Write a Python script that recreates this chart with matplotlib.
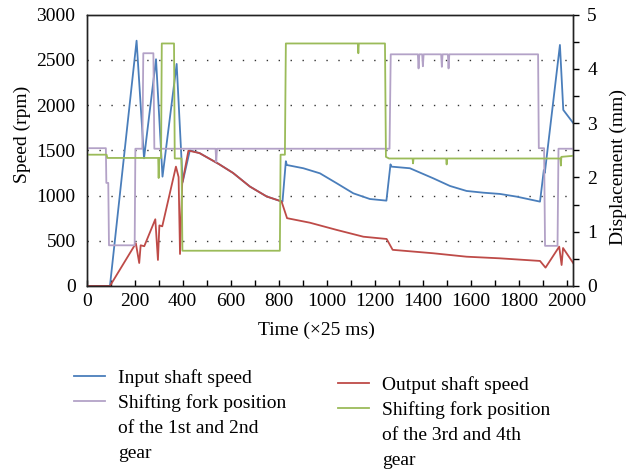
import matplotlib.pyplot as plt
from matplotlib.ticker import MultipleLocator

plt.rcParams['font.family'] = ['Liberation Serif', 'DejaVu Serif']
plt.rcParams['font.size'] = 14

# input shaft speed (rpm) - time in units of 25 ms
input_t = [0, 97, 208, 239, 289, 316, 375, 400, 430, 470, 550, 610, 680, 750, 812,
           816, 830, 834, 903, 972, 1042, 1111, 1180, 1249, 1266, 1270, 1347, 1444,
           1514, 1583, 1652, 1722, 1792, 1889, 1905, 1909, 1972, 1986, 2028]
input_rpm = [0, 0, 2713, 1412, 2508, 1209, 2456, 1150, 1500, 1470, 1350, 1250, 1100, 990, 935,
             933, 1380, 1338, 1302, 1246, 1136, 1025, 962, 944, 1345, 1320, 1302, 1191,
             1106, 1051, 1032, 1018, 988, 933, 1283, 1250, 2666, 1947, 1800]

# output shaft speed (rpm)
output_t = [0, 97, 205, 219, 225, 240, 286, 297, 303, 315, 372, 383, 389, 398, 424,
            470, 550, 610, 680, 750, 812, 835, 930, 1042, 1153, 1250, 1275, 1444,
            1583, 1722, 1889, 1912, 1969, 1979, 1985, 2028]
output_rpm = [0, 0, 472, 254, 450, 440, 738, 288, 670, 660, 1320, 1205, 354, 1130, 1497,
              1470, 1350, 1250, 1100, 990, 935, 750, 700, 620, 545, 520, 400, 362,
              324, 306, 277, 203, 435, 232, 420, 251]

# shifting fork position of the 1st and 2nd gear (mm)
fork12_t = [0, 80, 82, 90, 93, 200, 203, 232, 236, 278, 282, 537, 540, 543, 1262, 1267,
            1380, 1383, 1386, 1398, 1401, 1404, 1477, 1480, 1483, 1505, 1508, 1511,
            1881, 1884, 1906, 1910, 1962, 1966, 2028]
fork12_mm = [2.54, 2.54, 1.9, 1.9, 0.75, 0.75, 2.53, 2.53, 4.29, 4.29, 2.53, 2.53, 2.29, 2.53, 2.53, 4.27,
             4.27, 4.01, 4.27, 4.27, 4.05, 4.27, 4.27, 4.04, 4.27, 4.27, 4.01, 4.27,
             4.27, 2.54, 2.54, 0.74, 0.74, 2.53, 2.53]

# shifting fork position of the 3rd and 4th gear (mm)
fork34_t = [0, 83, 86, 298, 300, 302, 310, 313, 364, 367, 395, 399, 805, 808, 826, 830,
            1130, 1132, 1134, 1243, 1247, 1260, 1358, 1360, 1362, 1498, 1500, 1502,
            1974, 1976, 1978, 2028]
fork34_mm = [2.42, 2.42, 2.36, 2.36, 1.99, 2.36, 2.36, 4.47, 4.47, 2.35, 2.35, 0.65, 0.65, 2.42, 2.42, 4.47,
             4.47, 4.29, 4.47, 4.47, 2.38, 2.35, 2.35, 2.26, 2.35, 2.35, 2.24, 2.35,
             2.35, 2.22, 2.38, 2.4]

colors = ['#4a7ebb', '#be4b48', '#b3a2c7', '#9bbb59']

fig = plt.figure(figsize=(6.28, 4.70), dpi=100)
ax = fig.add_axes([0.138, 0.3915, 0.775, 0.5772])
ax2 = ax.twinx()

for y in [500, 1000, 1500, 2000, 2500]:
    ax.axhline(y, color='#333333', lw=1, dashes=(1, 7.6), zorder=0)

l1, = ax.plot(input_t, input_rpm, color=colors[0], lw=1.3)
l3, = ax.plot(output_t, output_rpm, color=colors[1], lw=1.3)
l2, = ax2.plot(fork12_t, fork12_mm, color=colors[2], lw=1.3)
l4, = ax2.plot(fork34_t, fork34_mm, color=colors[3], lw=1.3)

ax.set_xlim(0, 2028)
ax.set_ylim(0, 3000)
ax2.set_ylim(0, 5)
ax.xaxis.set_major_locator(MultipleLocator(200))
ax.xaxis.set_minor_locator(MultipleLocator(100))
ax.yaxis.set_major_locator(MultipleLocator(500))
ax2.yaxis.set_major_locator(MultipleLocator(1))
ax2.yaxis.set_minor_locator(MultipleLocator(0.5))

ax.tick_params(axis='x', which='both', direction='in', length=4, width=1, pad=5)
ax.tick_params(axis='y', length=0, pad=8)
ax2.tick_params(axis='y', which='both', direction='out', length=4, width=1, pad=6)

for a in (ax, ax2):
    for s in a.spines.values():
        s.set_color('#222222')
        s.set_linewidth(1)

ax.set_xlabel('Time (×25 ms)')
ax.set_ylabel('Speed (rpm)')
ax2.set_ylabel('Displacement (mm)')
ax.xaxis.set_label_coords(0.473, -0.13)
ax.yaxis.set_label_coords(-0.114, 0.56)
ax2.yaxis.set_label_coords(1.074, 0.44)

blank, = ax.plot([], [], color='none')

leg_kw = dict(frameon=False, handlelength=1.6, handletextpad=0.67, borderpad=0,
              borderaxespad=0, labelspacing=0.38, loc='upper left')
fig.legend([l1, l2, blank, blank],
           ['Input shaft speed', 'Shifting fork position', 'of the 1st and 2nd', 'gear'],
           bbox_to_anchor=(74 / 628, 1 - 369 / 470), **leg_kw)
fig.legend([l3, l4, blank, blank],
           ['Output shaft speed', 'Shifting fork position', 'of the 3rd and 4th', 'gear'],
           bbox_to_anchor=(338 / 628, 1 - 376 / 470), **leg_kw)

fig.savefig('out.png', dpi=100)
